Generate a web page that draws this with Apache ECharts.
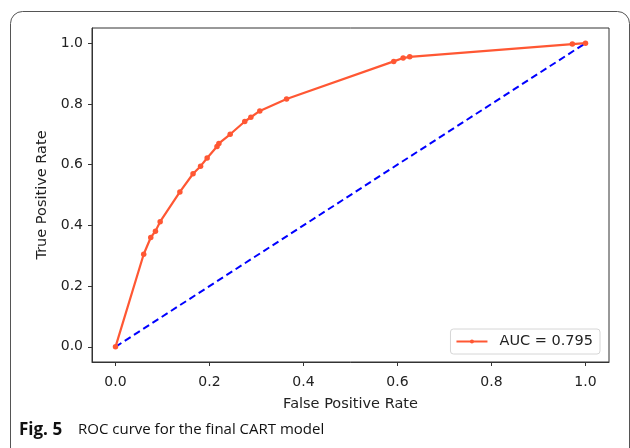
<!DOCTYPE html>
<html>
<head>
<meta charset="utf-8">
<script src="https://cdn.jsdelivr.net/npm/echarts@6/dist/echarts.min.js"></script>
<style>
html,body{margin:0;padding:0;background:#fff;}
#c{width:630px;height:448px;}
</style>
</head>
<body>
<div id="c"></div>
<script>
var fpr = [0, 0.060, 0.075, 0.085, 0.095, 0.137, 0.165, 0.181, 0.195, 0.216, 0.220, 0.244, 0.275, 0.288, 0.307, 0.364, 0.592, 0.612, 0.626, 0.972, 1.0];
var tpr = [0, 0.305, 0.360, 0.381, 0.412, 0.510, 0.570, 0.595, 0.622, 0.660, 0.670, 0.700, 0.742, 0.756, 0.777, 0.816, 0.940, 0.951, 0.955, 0.997, 1.0];
var diagX = [0, 1];
var diagY = [0, 1];
var tickValues = [0, 0.2, 0.4, 0.6, 0.8, 1.0];
var legendLabel = 'AUC = 0.795';
var xTitle = 'False Positive Rate';
var yTitle = 'True Positive Rate';
var captionBold = 'Fig. 5';
var captionText = 'ROC curve for the final CART model';

var font = 'DejaVu Sans';
var chart = echarts.init(document.getElementById('c'), null, {renderer: 'canvas'});

function axisCommon(name, gap, labelMargin) {
  return {
    type: 'value',
    min: -0.05,
    max: 1.05,
    name: name,
    nameLocation: 'middle',
    nameGap: gap,
    nameTextStyle: {fontFamily: font, fontSize: 14.5, color: '#222'},
    axisLine: {show: true, onZero: false, lineStyle: {color: '#333', width: 1}},
    axisTick: {show: true, inside: false, length: 4, customValues: tickValues, lineStyle: {color: '#333'}},
    axisLabel: {show: true, margin: labelMargin, customValues: tickValues, fontFamily: font, fontSize: 14, color: '#222',
      formatter: function (v) { return v.toFixed(1); }},
    splitLine: {show: false}
  };
}

var xAxis = axisCommon(xTitle, 35, 13);
var yAxis = axisCommon(yTitle, 41, 9);

chart.setOption({
  animation: false,
  backgroundColor: '#fff',
  grid: {left: 92, right: 21, top: 28, bottom: 86, show: true, borderColor: '#333', borderWidth: 1, backgroundColor: 'transparent'},
  xAxis: xAxis,
  yAxis: yAxis,
  legend: {
    data: [legendLabel],
    right: 30,
    top: 329,
    orient: 'vertical',
    borderColor: '#d6d6d6',
    borderWidth: 1,
    borderRadius: 3,
    backgroundColor: '#fff',
    padding: [5, 7, 5, 5],
    itemWidth: 31,
    itemHeight: 5,
    itemGap: 10,
    textStyle: {fontFamily: font, fontSize: 14.5, color: '#222', padding: [0, 0, 0, 7]}
  },
  series: [
    {
      name: 'diag',
      type: 'line',
      data: diagX.map(function (x, i) { return [x, diagY[i]]; }),
      symbol: 'none',
      lineStyle: {color: '#0000ff', width: 2, type: [7, 4]},
      z: 2
    },
    {
      name: legendLabel,
      type: 'line',
      data: fpr.map(function (x, i) { return [x, tpr[i]]; }),
      symbol: 'circle',
      symbolSize: 5.5,
      showSymbol: true,
      itemStyle: {color: '#ff5733'},
      lineStyle: {color: '#ff5733', width: 2.2},
      z: 3
    }
  ],
  graphic: [
    {
      type: 'rect',
      shape: {x: 10.5, y: 11.5, width: 619, height: 460, r: 12},
      style: {fill: 'none', stroke: '#555', lineWidth: 1},
      silent: true
    },
    {
      type: 'text',
      x: 19,
      y: 430,
      style: {text: captionBold, font: 'bold 17px "Open Sans"', fill: '#111', verticalAlign: 'middle'}
    },
    {
      type: 'text',
      x: 78,
      y: 430,
      style: {text: captionText, font: '15px "Open Sans"', fill: '#111', verticalAlign: 'middle'}
    }
  ]
});
</script>
</body>
</html>
